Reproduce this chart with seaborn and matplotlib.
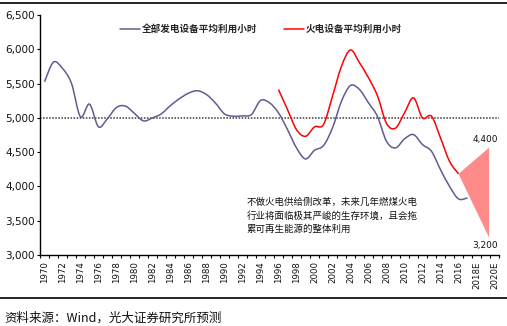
import numpy as np
import matplotlib
matplotlib.use("Agg")
import matplotlib.pyplot as plt
import seaborn as sns
from matplotlib.path import Path
from matplotlib.patches import PathPatch, Polygon
from matplotlib.lines import Line2D
from matplotlib.font_manager import FontProperties

# ---------------- data ----------------
categories = [str(y) for y in range(1970, 2018)] + ["2018E", "2019E", "2020E"]
tick_labels = [c if i % 2 == 0 else "" for i, c in enumerate(categories)]

all_years = list(range(1970, 2018))
all_hours = [5526, 5813, 5721, 5502, 5015, 5200, 4869, 4990, 5152, 5171,
             5064, 4956, 5000, 5060, 5180, 5280, 5360, 5395, 5340, 5215,
             5058, 5024, 5029, 5049, 5253, 5220, 5073, 4829, 4562, 4401,
             4527, 4596, 4854, 5243, 5472, 5413, 5219, 5019, 4658, 4562,
             4693, 4756, 4610, 4512, 4245, 4002, 3818, 3832]

thermal_years = list(range(1996, 2017))
thermal_hours = [5413, 5121, 4829, 4731, 4868, 4902, 5316, 5754, 5990, 5803,
                 5584, 5320, 4920, 4850, 5073, 5292, 5000, 5024, 4708, 4367,
                 4184]

forecast_years = [2016, 2019.4, 2019.4]
forecast_hours = [4184, 4565, 3255]
forecast_labels = ["4,400", "3,200"]

yticks = [3000, 3500, 4000, 4500, 5000, 5500, 6000, 6500]
baseline = 5000

series_names = ["全部发电设备平均利用小时", "火电设备平均利用小时"]
note_lines = ["不做火电供给侧改革，未来几年燃煤火电",
              "行业将面临极其严峻的生存环境，且会拖",
              "累可再生能源的整体利用"]
source_text = "资料来源：Wind，光大证券研究所预测"

# ---------------- style ----------------
sns.set_theme(style="white")
plt.rcParams['font.family'] = ['Noto Sans CJK SC', 'DejaVu Sans']

PURPLE = "#655A8F"
RED = "#FF0000"
WEDGE = "#FF8A8A"
W, H = 507, 326

fig = plt.figure(figsize=(W / 100, H / 100), dpi=100)
ax = fig.add_axes([40 / W, (H - 255) / H, 459 / W, 240 / H])


def smooth_path(x, y):
    pts = np.column_stack([x, y]).astype(float)
    n = len(pts)
    verts = [pts[0]]
    codes = [Path.MOVETO]
    for i in range(n - 1):
        p0 = pts[i - 1] if i > 0 else pts[i]
        p1 = pts[i]
        p2 = pts[i + 1]
        p3 = pts[i + 2] if i + 2 < n else pts[i + 1]
        c1 = p1 + (p2 - p0) / 6.0
        c2 = p2 - (p3 - p1) / 6.0
        verts += [c1, c2, p2]
        codes += [Path.CURVE4] * 3
    return Path(verts, codes)


def xpos(years):
    return np.asarray(years, dtype=float) - 1970


# baseline dotted line
ax.axhline(baseline, color="#3a3a3a", lw=1.1, ls=(0, (1, 1)), zorder=1)

# wedge (forecast range)
ax.add_patch(Polygon(np.column_stack([xpos(forecast_years), forecast_hours]),
                     closed=True, facecolor=WEDGE, edgecolor="none", zorder=2))

# smoothed lines
ax.add_patch(PathPatch(smooth_path(xpos(all_years), all_hours), fill=False,
                       edgecolor=PURPLE, lw=1.1, zorder=3))
ax.add_patch(PathPatch(smooth_path(xpos(thermal_years), thermal_hours), fill=False,
                       edgecolor=RED, lw=1.1, zorder=4))

# forecast labels
num_font = dict(family="DejaVu Sans", fontsize=6.5, color="#111111")
ax.annotate(forecast_labels[0], xy=(xpos([forecast_years[1]])[0], forecast_hours[1]),
            xytext=(-4, 8), textcoords="offset pixels", ha="center", va="center", **num_font)
ax.annotate(forecast_labels[1], xy=(xpos([forecast_years[2]])[0], forecast_hours[2]),
            xytext=(-4, -8), textcoords="offset pixels", ha="center", va="center", **num_font)

# axes limits / ticks
ax.set_xlim(-0.5, len(categories) - 0.5)
ax.set_ylim(yticks[0], yticks[-1])
ax.set_yticks(yticks)
ax.set_yticklabels([f"{v:,}" for v in yticks], family="DejaVu Sans", fontsize=7.5,
                   color="#111111")
ax.set_xticks(np.arange(-0.5, len(categories), 1.0))
ax.set_xticklabels([])
ax.set_xticks(np.arange(len(categories)), minor=True)
ax.set_xticklabels(tick_labels, minor=True, rotation=90, family="DejaVu Sans",
                   fontsize=6.2, color="#111111", va="top", ha="center")
ax.tick_params(axis="x", which="major", direction="out", length=2.4, width=0.8,
               color="black", bottom=True)
ax.tick_params(axis="x", which="minor", length=0, pad=4.5, bottom=True)
ax.tick_params(axis="y", direction="out", length=2.4, width=0.8, color="black",
               pad=1.5, left=True)
sns.despine(ax=ax)
for s in ("left", "bottom"):
    ax.spines[s].set_color("black")
    ax.spines[s].set_linewidth(1.0)
ax.grid(False)

# legend
handles = [Line2D([], [], color=PURPLE, lw=1.1), Line2D([], [], color=RED, lw=1.1)]
leg = ax.legend(handles, series_names, ncol=2, loc="center left",
                bbox_to_anchor=(120 / W, 1 - 29 / H), bbox_transform=fig.transFigure,
                frameon=False, handlelength=2.1, handletextpad=0.15,
                columnspacing=2.8, borderpad=0, borderaxespad=0,
                prop=FontProperties(family=["Noto Sans CJK SC"], weight="bold", size=6.9))

# annotation note
for i, line in enumerate(note_lines):
    fig.text(246.5 / W, 1 - (202 + 13.5 * i) / H, line, ha="left", va="center",
             fontsize=6.8, color="#111111")

# header / footer rules and source
fig.add_artist(Line2D([0, 1], [1 - 3.3 / H] * 2, transform=fig.transFigure,
                      color="black", lw=1.2))
fig.add_artist(Line2D([0, 1], [1 - 298 / H] * 2, transform=fig.transFigure,
                      color="black", lw=1.2))
fig.text(4 / W, 1 - 318 / H, source_text, ha="left", va="center", fontsize=9,
         color="#111111")

fig.savefig("out.png", dpi=100)
